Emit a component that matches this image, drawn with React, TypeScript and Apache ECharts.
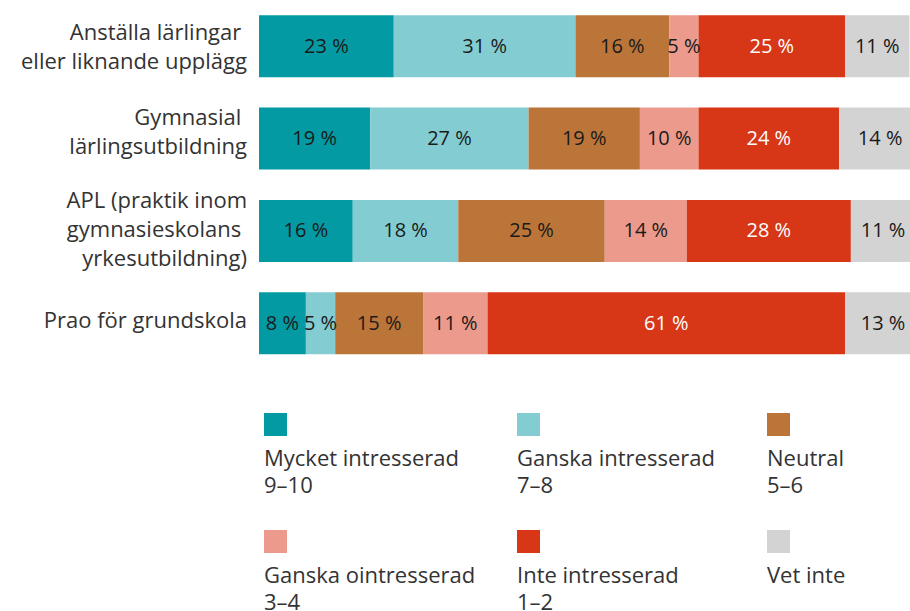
import React, { useEffect, useRef } from "react";
import * as echarts from "echarts";

const categories = [
  "Anställa lärlingar\u00a0\neller liknande upplägg",
  "Gymnasial\u00a0\nlärlingsutbildning",
  "APL (praktik inom\ngymnasieskolans\u00a0\nyrkesutbildning)",
  "Prao för grundskola",
];
const seriesNames = [
  "Mycket intresserad\n9–10",
  "Ganska intresserad\n7–8",
  "Neutral\n5–6",
  "Ganska ointresserad\n3–4",
  "Inte intresserad\n1–2",
  "Vet inte",
];
const mycket = [23, 19, 16, 8];
const ganska = [31, 27, 18, 5];
const neutral = [16, 19, 25, 15];
const ointresserad = [5, 10, 14, 11];
const inte = [25, 24, 28, 61];
const vetInte = [11, 14, 11, 13];
const colors = ["#049aa3", "#83cdd2", "#bc7539", "#ec9a8c", "#d73617", "#d3d3d3"];
const labelColors = ["#1a1a1a", "#1a1a1a", "#1a1a1a", "#1a1a1a", "#ffffff", "#1a1a1a"];

const FONT = "Open Sans";

export default function App() {
  const ref = useRef<HTMLDivElement>(null);
  useEffect(() => {
    if (!ref.current) return;
    const chart = echarts.init(ref.current, null, { renderer: "svg" });
    const values = [mycket, ganska, neutral, ointresserad, inte, vetInte];
    const series = values.map((d, i) => ({
      name: seriesNames[i],
      type: "bar",
      stack: "total",
      barWidth: 62,
      data: d,
      itemStyle: { color: colors[i] },
      label: {
        show: true,
        position: "inside",
        formatter: "{c} %",
        color: labelColors[i],
        fontSize: 20,
        fontFamily: FONT,
        offset: [0, -1],
      },
    }));
    const colX = [264, 517, 767];
    const rowY = [413, 530];
    const graphics: any[] = [];
    seriesNames.forEach((n, i) => {
      const x = colX[i % 3];
      const y = rowY[Math.floor(i / 3)];
      graphics.push({
        type: "rect",
        left: x,
        top: y,
        shape: { x: 0, y: 0, width: 23, height: 23 },
        style: { fill: colors[i] },
      });
      graphics.push({
        type: "text",
        left: x,
        top: y + 30,
        style: {
          text: n,
          fontSize: 22,
          fontFamily: FONT,
          lineHeight: 27,
          fill: "#333333",
        },
      });
    });
    const gridW = 113 * 5.86;
    chart.setOption({
      animation: false,
      grid: [
        { left: 259, top: -2.5, height: 372, width: gridW },
        { left: 259, top: -7.5, height: 372, width: gridW },
      ],
      xAxis: [
        { type: "value", min: 0, max: 113, show: false, gridIndex: 0 },
        { type: "value", min: 0, max: 113, show: false, gridIndex: 1 },
      ],
      yAxis: [
        {
          type: "category",
          gridIndex: 0,
          inverse: true,
          data: categories,
          axisLine: { show: false },
          axisTick: { show: false },
          axisLabel: { show: false },
        },
        {
          type: "category",
          gridIndex: 1,
          inverse: true,
          data: categories,
          axisLine: { show: false },
          axisTick: { show: false },
          splitLine: { show: false },
          axisLabel: {
            fontSize: 22,
            fontFamily: FONT,
            color: "#333333",
            lineHeight: 29,
            margin: 12,
            formatter: (value: string, index: number) =>
              index === 1
                ? value.split("\n").map((l) => `{a|${l}}`).join("\n") + "\n{s| }"
                : value.split("\n").map((l) => `{a|${l}}`).join("\n"),
            rich: {
              a: { fontSize: 22, fontFamily: FONT, color: "#333333", lineHeight: 29 },
              s: { fontSize: 1, lineHeight: 13 },
            },
          },
        },
      ],
      series,
      graphic: graphics,
    });
    return () => chart.dispose();
  }, []);
  return (
    <div style={{ position: "absolute", left: 0, top: 0, width: 910, height: 611, overflow: "hidden", background: "#fff" }}>
      <div ref={ref} style={{ width: 930, height: 611 }} />
    </div>
  );
}
